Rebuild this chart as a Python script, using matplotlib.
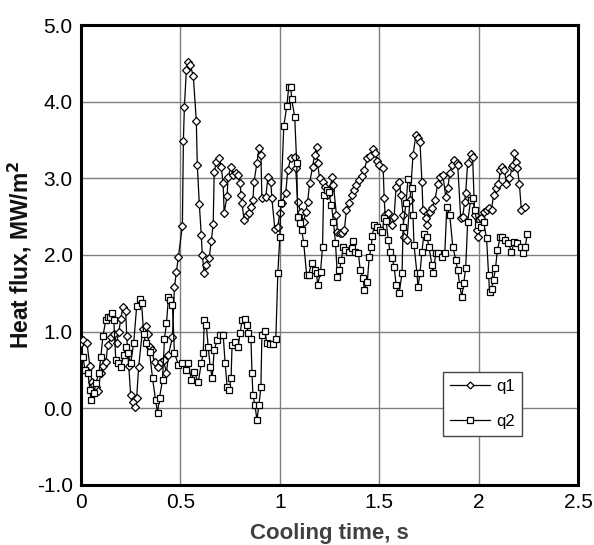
import matplotlib
matplotlib.use("Agg")
import matplotlib.pyplot as plt

plt.rcParams['font.family'] = ['Liberation Sans', 'DejaVu Sans']

# ---- data ----
t1 = [0.00, 0.01, 0.03, 0.045, 0.055, 0.065, 0.075, 0.085, 0.10, 0.11, 0.125, 0.135, 0.15, 0.165, 0.18, 0.19,
      0.20, 0.21, 0.225, 0.23, 0.24, 0.25, 0.26, 0.27, 0.28, 0.29, 0.31, 0.325, 0.335, 0.345, 0.355, 0.37,
      0.385, 0.40, 0.415, 0.43, 0.44, 0.46, 0.47, 0.48, 0.49, 0.51, 0.515, 0.52, 0.53, 0.54, 0.55, 0.565,
      0.58, 0.585, 0.595, 0.605, 0.61, 0.62, 0.63, 0.645, 0.655, 0.665, 0.67, 0.68, 0.695, 0.705, 0.715, 0.72,
      0.735, 0.74, 0.755, 0.765, 0.78, 0.79, 0.80, 0.805, 0.81, 0.82, 0.835, 0.845, 0.855, 0.865, 0.87, 0.885,
      0.895, 0.905, 0.91, 0.93, 0.94, 0.955, 0.96, 0.975, 0.99, 1.00, 1.01, 1.03, 1.04, 1.055, 1.075, 1.08,
      1.09, 1.105, 1.12, 1.13, 1.14, 1.15, 1.165, 1.175, 1.185, 1.19, 1.20, 1.215, 1.225, 1.235, 1.25, 1.265,
      1.27, 1.285, 1.29, 1.305, 1.315, 1.325, 1.335, 1.35, 1.365, 1.375, 1.385, 1.40, 1.415, 1.425, 1.44, 1.455,
      1.47, 1.48, 1.49, 1.50, 1.52, 1.525, 1.53, 1.545, 1.565, 1.575, 1.585, 1.60, 1.61, 1.62, 1.625, 1.64,
      1.655, 1.67, 1.685, 1.695, 1.705, 1.715, 1.72, 1.735, 1.74, 1.755, 1.765, 1.78, 1.795, 1.805, 1.82, 1.835,
      1.845, 1.855, 1.865, 1.875, 1.89, 1.895, 1.91, 1.92, 1.93, 1.935, 1.945, 1.96, 1.97, 1.98, 1.99, 1.995,
      2.01, 2.025, 2.04, 2.05, 2.065, 2.075, 2.09, 2.10, 2.11, 2.12, 2.13, 2.14, 2.155, 2.17, 2.175, 2.18,
      2.19, 2.195, 2.205, 2.215, 2.235]
q1 = [0.85, 0.89, 0.85, 0.55, 0.34, 0.30, 0.28, 0.23, 0.46, 0.55, 0.60, 0.83, 0.93, 0.97, 0.85, 1.00,
      1.16, 1.32, 1.27, 0.94, 0.55, 0.17, 0.08, 0.02, 0.14, 0.54, 1.04, 1.07, 0.97, 0.80, 0.76, 0.60,
      0.54, 0.60, 0.63, 0.46, 0.70, 0.93, 1.58, 1.78, 1.97, 2.38, 3.49, 3.93, 4.41, 4.52, 4.48, 4.33,
      3.75, 3.17, 2.67, 2.26, 2.00, 1.76, 1.87, 1.96, 2.18, 2.40, 3.08, 3.21, 3.26, 3.15, 2.94, 2.55,
      2.77, 3.02, 3.15, 3.04, 3.07, 3.04, 2.94, 2.78, 2.68, 2.46, 2.52, 2.55, 2.63, 2.72, 2.95, 3.20,
      3.39, 3.30, 2.74, 2.76, 3.02, 2.95, 2.74, 2.34, 2.37, 2.55, 2.68, 2.81, 3.11, 3.26, 3.28, 3.13,
      2.69, 2.56, 2.43, 2.56, 2.69, 2.94, 3.15, 3.31, 3.41, 3.20, 3.00, 2.95, 2.89, 2.78, 2.85, 3.02,
      2.91, 2.52, 2.30, 2.29, 2.29, 2.33, 2.59, 2.68, 2.78, 2.85, 2.91, 2.98, 3.03, 3.11, 3.26, 3.29,
      3.38, 3.33, 3.22, 3.17, 3.13, 2.74, 2.52, 2.55, 2.39, 2.50, 2.89, 2.95, 2.78, 2.52, 2.24, 2.20,
      2.72, 3.30, 3.57, 3.52, 3.48, 2.95, 2.59, 2.48, 2.39, 2.56, 2.61, 2.72, 2.93, 3.02, 3.04, 2.76,
      2.87, 3.07, 3.17, 3.24, 3.20, 3.17, 2.48, 2.50, 2.69, 2.81, 3.20, 3.32, 3.28, 2.52, 2.33, 2.24,
      2.48, 2.56, 2.59, 2.61, 2.59, 2.78, 2.87, 2.93, 3.11, 3.15, 3.11, 2.93, 3.00, 3.15, 3.17, 3.33,
      3.21, 3.13, 2.93, 2.59, 2.63]

t2 = [0.00, 0.01, 0.02, 0.035, 0.045, 0.05, 0.065, 0.075, 0.09, 0.10, 0.11, 0.125, 0.135, 0.145, 0.155, 0.165,
      0.175, 0.185, 0.20, 0.215, 0.225, 0.235, 0.25, 0.265, 0.28, 0.295, 0.305, 0.315, 0.325, 0.345, 0.36, 0.375,
      0.385, 0.395, 0.41, 0.42, 0.43, 0.44, 0.45, 0.46, 0.47, 0.49, 0.51, 0.53, 0.54, 0.555, 0.57, 0.59,
      0.605, 0.615, 0.62, 0.63, 0.64, 0.65, 0.66, 0.67, 0.685, 0.70, 0.715, 0.725, 0.735, 0.745, 0.755, 0.76,
      0.775, 0.79, 0.80, 0.81, 0.825, 0.835, 0.84, 0.855, 0.86, 0.865, 0.875, 0.885, 0.895, 0.905, 0.91, 0.925,
      0.935, 0.95, 0.965, 0.98, 0.99, 1.00, 1.005, 1.02, 1.035, 1.045, 1.055, 1.06, 1.075, 1.085, 1.09, 1.10,
      1.11, 1.12, 1.135, 1.145, 1.16, 1.175, 1.185, 1.19, 1.205, 1.215, 1.22, 1.235, 1.245, 1.26, 1.27, 1.28,
      1.29, 1.30, 1.31, 1.32, 1.33, 1.35, 1.365, 1.37, 1.38, 1.395, 1.405, 1.42, 1.425, 1.44, 1.45, 1.46,
      1.465, 1.475, 1.49, 1.505, 1.515, 1.525, 1.535, 1.545, 1.555, 1.565, 1.575, 1.585, 1.60, 1.615, 1.62, 1.635,
      1.645, 1.665, 1.67, 1.675, 1.69, 1.695, 1.705, 1.715, 1.725, 1.74, 1.75, 1.765, 1.77, 1.785, 1.795, 1.815,
      1.83, 1.84, 1.855, 1.87, 1.885, 1.895, 1.905, 1.915, 1.925, 1.935, 1.945, 1.96, 1.97, 1.98, 1.995, 2.01,
      2.025, 2.04, 2.05, 2.055, 2.065, 2.075, 2.085, 2.095, 2.11, 2.12, 2.135, 2.15, 2.165, 2.18, 2.195, 2.215,
      2.225, 2.235, 2.245]
q2 = [0.67, 0.67, 0.50, 0.46, 0.24, 0.11, 0.20, 0.33, 0.46, 0.67, 0.94, 1.15, 1.19, 1.19, 1.24, 1.15,
      0.63, 0.59, 0.54, 0.70, 0.80, 0.72, 0.59, 0.85, 1.33, 1.43, 1.37, 0.97, 0.85, 0.73, 0.39, 0.11,
      -0.06, 0.14, 0.37, 0.91, 1.11, 1.45, 1.41, 1.35, 0.72, 0.57, 0.59, 0.50, 0.59, 0.37, 0.47, 0.34,
      0.59, 0.72, 1.15, 1.09, 0.80, 0.54, 0.40, 0.76, 0.89, 0.96, 0.96, 0.59, 0.28, 0.24, 0.40, 0.83,
      0.87, 0.80, 0.98, 1.15, 1.17, 1.09, 0.98, 0.91, 0.46, 0.17, 0.04, -0.15, 0.04, 0.28, 0.96, 1.01,
      0.85, 0.84, 0.84, 0.90, 1.76, 2.23, 2.68, 3.68, 3.94, 4.19, 4.19, 4.03, 3.80, 3.20, 2.50, 2.42,
      2.33, 2.16, 1.74, 1.74, 1.90, 1.80, 1.76, 1.61, 1.78, 2.11, 2.78, 2.85, 2.82, 2.65, 2.43, 2.16,
      1.71, 1.80, 1.94, 2.11, 2.07, 2.04, 2.09, 2.18, 2.04, 2.02, 1.80, 1.70, 1.54, 1.65, 1.97, 2.11,
      2.25, 2.39, 2.37, 2.33, 2.30, 2.48, 2.45, 2.20, 2.04, 1.96, 1.85, 1.61, 1.50, 1.76, 2.37, 2.68,
      2.99, 2.87, 2.52, 2.13, 1.76, 1.58, 1.76, 2.04, 2.28, 2.24, 2.11, 1.87, 1.76, 2.02, 2.02, 1.97,
      2.02, 2.63, 2.52, 2.11, 1.94, 1.80, 1.61, 1.45, 1.63, 1.83, 2.43, 2.72, 2.74, 2.59, 2.39, 2.37,
      2.43, 2.22, 1.74, 1.52, 1.56, 1.67, 1.83, 2.07, 2.24, 2.24, 2.20, 2.16, 2.04, 2.17, 2.16, 2.11,
      2.02, 2.11, 2.28]

series_labels = ["q1", "q2"]
x_ticks = [0, 0.5, 1, 1.5, 2, 2.5]
x_tick_labels = ["0", "0.5", "1", "1.5", "2", "2.5"]
y_ticks = [-1.0, 0.0, 1.0, 2.0, 3.0, 4.0, 5.0]
y_tick_labels = ["-1.0", "0.0", "1.0", "2.0", "3.0", "4.0", "5.0"]

# ---- figure ----
fig = plt.figure(figsize=(5.94, 5.45), dpi=100)
ax = fig.add_axes([81/594, 1 - 485/545, 497/594, 460/545])

ax.plot(t1, q1, color='black', lw=0.9, marker='D', ms=4.4, mfc='white', mec='black', mew=0.9,
        label=series_labels[0], zorder=3)
ax.plot(t2, q2, color='black', lw=0.9, marker='s', ms=4.8, mfc='white', mec='black', mew=0.9,
        label=series_labels[1], zorder=3)

ax.set_xlim(0, 2.5)
ax.set_ylim(-1.0, 5.0)
ax.set_xticks(x_ticks)
ax.set_xticklabels(x_tick_labels)
ax.set_yticks(y_ticks)
ax.set_yticklabels(y_tick_labels)
ax.tick_params(length=0, labelsize=15, pad=6)
ax.grid(True, color='#7f7f7f', lw=1.0)
ax.set_axisbelow(True)
for s in ax.spines.values():
    s.set_linewidth(2.2)
    s.set_color('black')

ax.set_xlabel("Cooling time, s", fontsize=16, fontweight='bold', color='#404040', labelpad=8)
ax.set_ylabel("Heat flux, MW/m$^\\mathbf{2}$", fontsize=16.5, fontweight='bold', color='#111111', labelpad=2)

leg = ax.legend(loc='upper left', bbox_to_anchor=(0.712, 0.263), fontsize=12, frameon=True,
                fancybox=False, edgecolor='#444444', framealpha=1, handlelength=2.4,
                borderpad=0.4, labelspacing=1.2, handletextpad=0.4, markerscale=0.8)
leg.get_frame().set_linewidth(1.0)

fig.savefig("out.png", dpi=100)
